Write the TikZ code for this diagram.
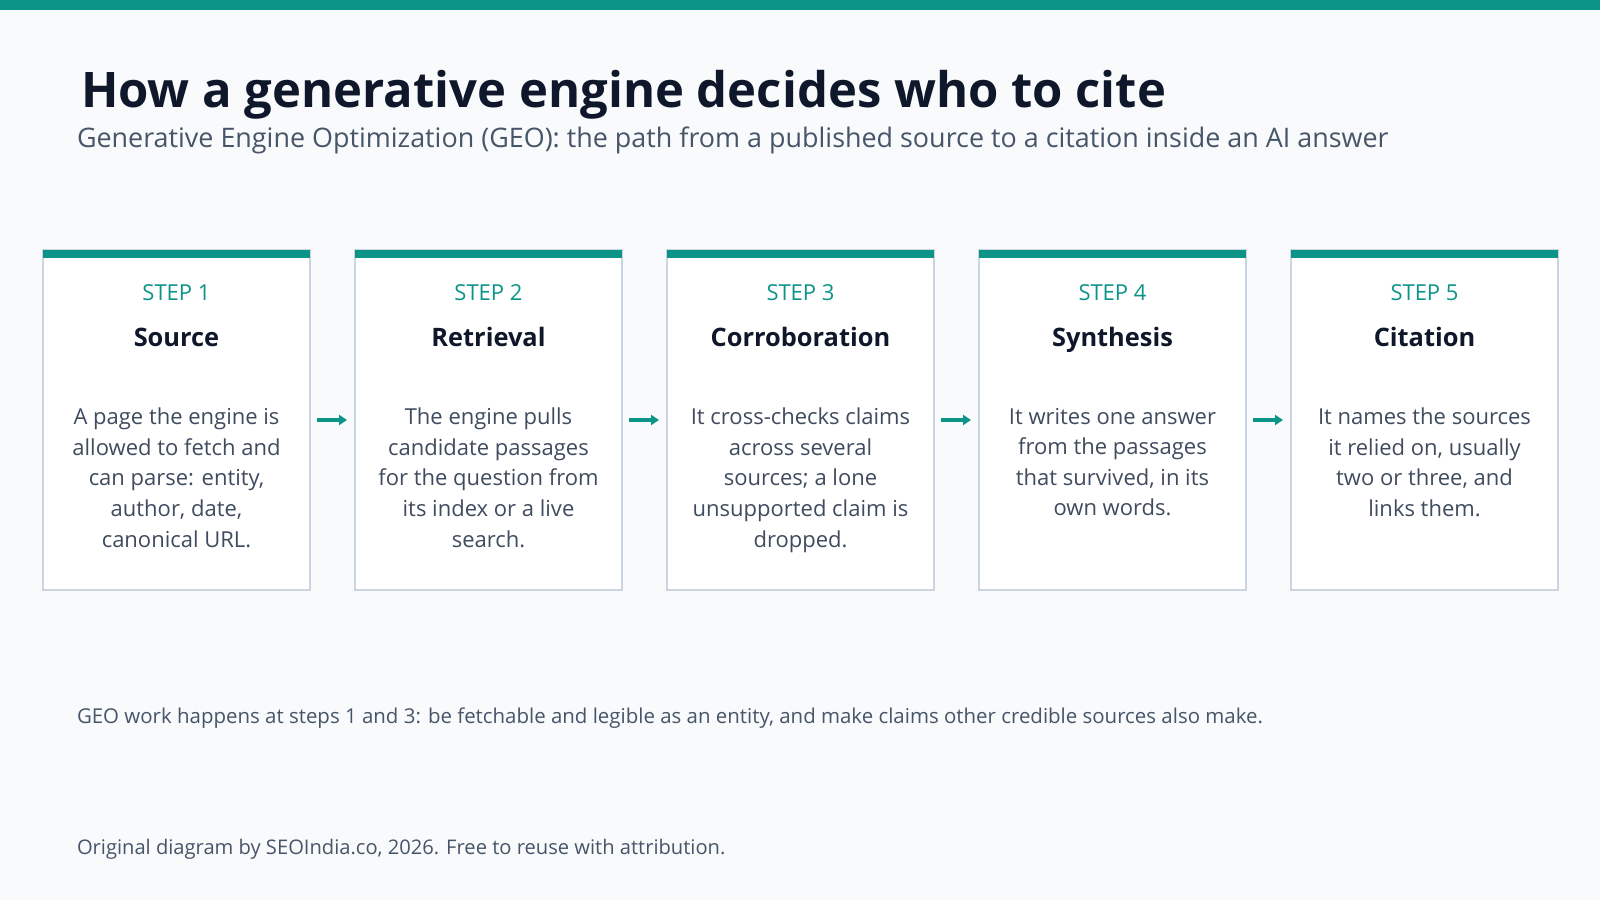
\documentclass[tikz,border=0pt]{standalone}
\usepackage{fontspec}
\setmainfont{Open Sans}
\usepackage{xcolor}
\usetikzlibrary{arrows.meta,positioning}
\definecolor{geoTeal}{HTML}{0D9488}
\definecolor{geoInk}{HTML}{0F172A}
\definecolor{geoSlate}{HTML}{475569}
\definecolor{geoBody}{HTML}{3F4B5E}
\definecolor{geoEdge}{HTML}{CBD5E1}
\definecolor{geoPaper}{HTML}{F8FAFC}

\begin{document}
\begin{tikzpicture}[
node distance=22.5pt,
every node/.style={inner sep=0pt, outer sep=0pt},
card/.style={draw=geoEdge, line width=1pt, fill=white, minimum width=133.5pt, minimum height=170pt},
stepTag/.style={text=geoTeal, anchor=base, font=\fontsize{11}{13}\selectfont},
stepHead/.style={text=geoInk, anchor=base, font=\fontsize{12.7}{15}\selectfont\bfseries},
stepBody/.style={text=geoBody, align=center, anchor=north, font=\fontsize{11}{15.3}\selectfont},
arr/.style={-{Triangle[length=4pt,width=5pt]}, line width=2pt, geoTeal, shorten >=4pt, shorten <=3.5pt}
]
\useasboundingbox[fill=geoPaper] (0,0) rectangle (800pt,450pt);
\fill[geoTeal] (0,445pt) rectangle (800pt,450pt);

% Heading
\node[anchor=base west, text=geoInk, font=\fontsize{24.5}{28}\selectfont\bfseries] (T) at (40.5pt,396pt) {How a generative engine decides who to cite};
\node[anchor=base west, text=geoSlate, font=\fontsize{13.45}{15}\selectfont] (ST) at (38.5pt,376pt) {Generative Engine Optimization (GEO): the path from a published source to a citation inside an AI answer};

% Cards
\node[card] (B1) at (88.25pt,240pt) {};
\node[card, right=of B1] (B2) {};
\node[card, right=of B2] (B3) {};
\node[card, right=of B3] (B4) {};
\node[card, right=of B4] (B5) {};
\fill[geoTeal] (B1.north west) rectangle ([yshift=-4pt]B1.north east);
\fill[geoTeal] (B2.north west) rectangle ([yshift=-4pt]B2.north east);
\fill[geoTeal] (B3.north west) rectangle ([yshift=-4pt]B3.north east);
\fill[geoTeal] (B4.north west) rectangle ([yshift=-4pt]B4.north east);
\fill[geoTeal] (B5.north west) rectangle ([yshift=-4pt]B5.north east);

% Step 1
\node[stepTag] (L1) at ([yshift=-25.5pt]B1.north) {STEP 1};
\node[stepHead] (H1) at ([yshift=-48.5pt]B1.north) {Source};
\node[stepBody] (D1) at ([yshift=-79pt]B1.north) {A page the engine is\\allowed to fetch and\\can parse: entity,\\author, date,\\canonical URL.};
% Step 2
\node[stepTag] (L2) at ([yshift=-25.5pt]B2.north) {STEP 2};
\node[stepHead] (H2) at ([yshift=-48.5pt]B2.north) {Retrieval};
\node[stepBody] (D2) at ([yshift=-79pt]B2.north) {The engine pulls\\candidate passages\\for the question from\\its index or a live\\search.};
% Step 3
\node[stepTag] (L3) at ([yshift=-25.5pt]B3.north) {STEP 3};
\node[stepHead] (H3) at ([yshift=-48.5pt]B3.north) {Corroboration};
\node[stepBody] (D3) at ([yshift=-79pt]B3.north) {It cross-checks claims\\across several\\sources; a lone\\unsupported claim is\\dropped.};
% Step 4
\node[stepTag] (L4) at ([yshift=-25.5pt]B4.north) {STEP 4};
\node[stepHead] (H4) at ([yshift=-48.5pt]B4.north) {Synthesis};
\node[stepBody] (D4) at ([yshift=-79pt]B4.north) {It writes one answer\\from the passages\\that survived, in its\\own words.};
% Step 5
\node[stepTag] (L5) at ([yshift=-25.5pt]B5.north) {STEP 5};
\node[stepHead] (H5) at ([yshift=-48.5pt]B5.north) {Citation};
\node[stepBody] (D5) at ([yshift=-79pt]B5.north) {It names the sources\\it relied on, usually\\two or three, and\\links them.};

\draw[arr] (B1) -- (B2); \draw[arr] (B2) -- (B3); \draw[arr] (B3) -- (B4); \draw[arr] (B4) -- (B5);

% Notes
\node[anchor=base west, text=geoSlate, font=\fontsize{10.22}{12}\selectfont] (N1) at (38.5pt,88.5pt) {GEO work happens at steps 1 and 3: be fetchable and legible as an entity, and make claims other credible sources also make.};
\node[anchor=base west, text=geoSlate, font=\fontsize{10.07}{12}\selectfont] (N2) at (38.5pt,23pt) {Original diagram by SEOIndia.co, 2026. Free to reuse with attribution.};
\end{tikzpicture}
\end{document}
